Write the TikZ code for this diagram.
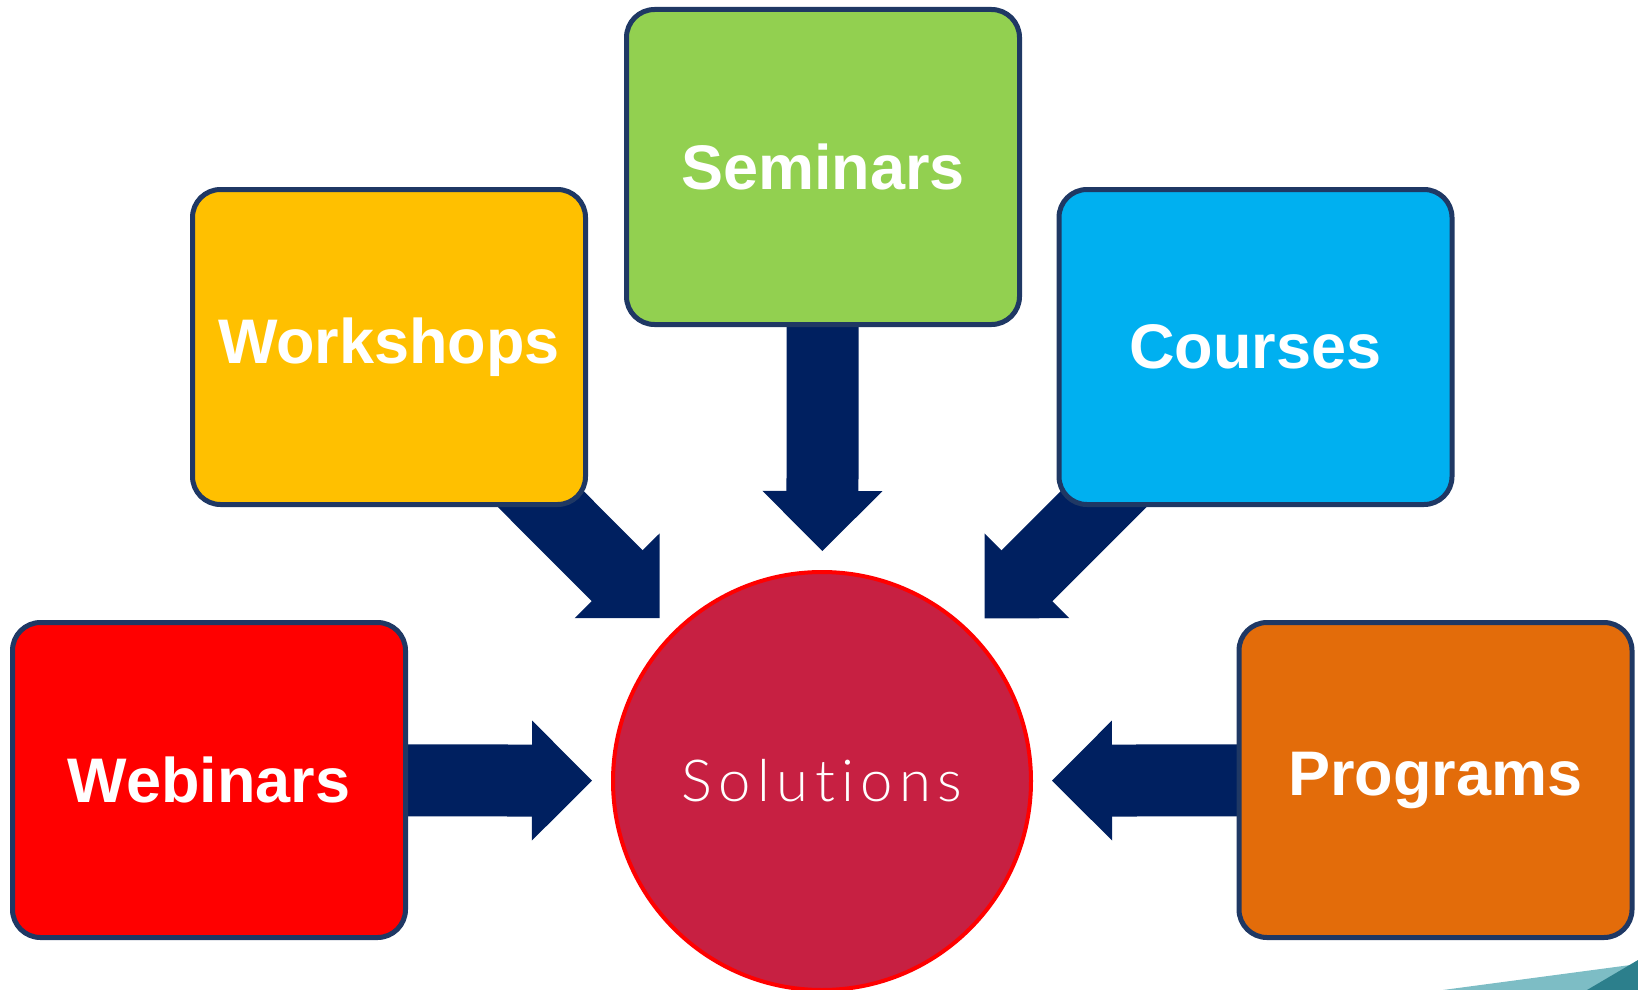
\documentclass[tikz,border=0pt]{standalone}
\usepackage{fontspec}
\setmainfont{Liberation Sans}
\IfFontExistsTF{Lato Light}{\newfontfamily\solfont{Lato Light}[LetterSpace=11,Ligatures={NoCommon,NoRequired,NoContextual}]}{\newfontfamily\solfont{Lato}[LetterSpace=11,Ligatures={NoCommon,NoRequired,NoContextual}]}
\usetikzlibrary{calc}
\definecolor{boxline}{HTML}{1F3864}
\definecolor{arrowblue}{HTML}{002060}
\definecolor{webred}{HTML}{FF0000}
\definecolor{workyellow}{HTML}{FFC000}
\definecolor{semgreen}{HTML}{92D050}
\definecolor{courseblue}{HTML}{00B0F0}
\definecolor{progorange}{HTML}{E36C0A}
\definecolor{hubfill}{HTML}{C72042}
\definecolor{hubline}{HTML}{FF0000}
\definecolor{tealA}{HTML}{7DBDC5}
\definecolor{tealB}{HTML}{2C7F8C}
\pgfdeclarelayer{bg}
\pgfsetlayers{bg,main}
\newcommand\blockarr[1]{%
  \coordinate (#1tip) at ($(sol.center)!230pt!(#1.center)$);
  \coordinate (#1base) at ($(#1tip)!60pt!(#1.center)$);
  \draw[arrowshaft] (#1.center) -- ($(#1base)!-3pt!(#1.center)$);
  \fill[arrowfill] ($(#1base)!60pt!90:(#1tip)$)
    -- (#1tip)
    -- ($(#1base)!60pt!-90:(#1tip)$) -- cycle;
}
\begin{document}
\begin{tikzpicture}[x=1pt,y=-1pt,
  box/.style={draw=boxline, line width=5pt, rounded corners=28pt,
    minimum width=393pt, minimum height=315pt, inner sep=0pt,
    text=white, font=\fontsize{63}{70}\selectfont\bfseries},
  hub/.style={circle, draw=hubline, line width=4pt, fill=hubfill,
    minimum size=418pt, inner sep=0pt, text=white,
    font=\solfont\fontsize{58}{64}\selectfont},
  arrowfill/.style={fill=arrowblue},
  arrowshaft/.style={draw=arrowblue, line width=72pt}]
\useasboundingbox (0,0) rectangle (1638,990);
% decorative corner
\fill[tealA] (1443,990) -- (1638,964) -- (1638,990) -- cycle;
\fill[tealB] (1587,990) -- (1638,960) -- (1638,990) -- cycle;
% nodes
\node[hub] (sol) at (822,781) {Solutions};
\node[box, fill=semgreen] (sem) at (823,167) {Seminars};
\node[box, fill=workyellow] (wor) at (389,347) {Workshops};
\node[box, fill=courseblue] (cou) at (1255.5,347) {Courses};
\node[box, fill=webred] (web) at (209,780) {Webinars};
\node[box, fill=progorange] (pro) at (1435.5,780) {Programs};
% arrows
\begin{pgfonlayer}{bg}
\blockarr{sem}
\blockarr{wor}
\blockarr{cou}
\blockarr{web}
\blockarr{pro}
\end{pgfonlayer}
\end{tikzpicture}
\end{document}
